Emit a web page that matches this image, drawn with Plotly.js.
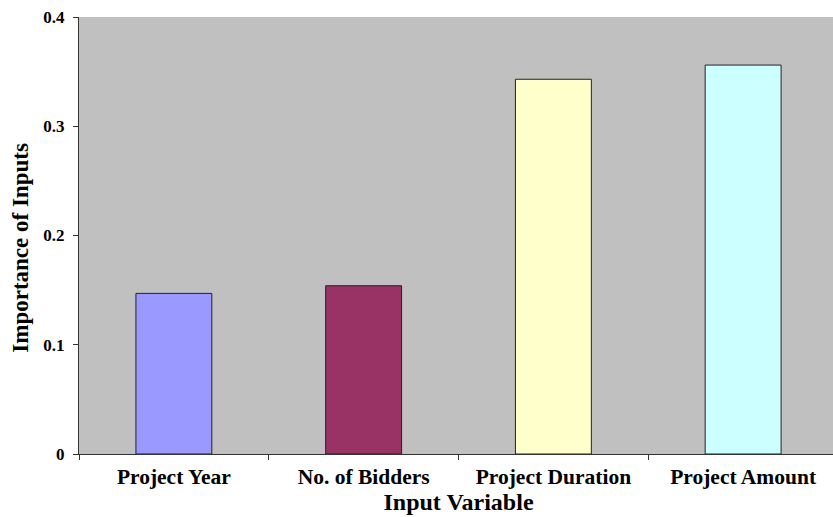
<!DOCTYPE html>
<html>
<head>
<meta charset="utf-8">
<script src="https://cdn.plot.ly/plotly-3.0.1.min.js"></script>
<style>html,body{margin:0;padding:0;background:#fff;overflow:hidden;}#chart{width:833px;height:517px;overflow:hidden;}</style>
</head>
<body>
<div id="chart"></div>
<script>
const categories = ["Project Year", "No. of Bidders", "Project Duration", "Project Amount"];
const importance = [0.147, 0.154, 0.343, 0.356];
const barColors = ["#9999FF", "#993366", "#FFFFCC", "#CCFFFF"];
const yTickValues = [0, 0.1, 0.2, 0.3, 0.4];
const yTickLabels = ["0", "0.1", "0.2", "0.3", "0.4"];
const yTitle = "Importance of Inputs";
const xTitle = "Input Variable";

const font = "'Liberation Serif', 'Times New Roman', serif";

Plotly.newPlot("chart", [{
  type: "bar",
  x: categories,
  y: importance,
  width: 0.4,
  marker: { color: barColors, line: { color: "#222222", width: 1 } },
  hoverinfo: "none"
}], {
  width: 838,
  height: 517,
  margin: { l: 79, r: 0, t: 17, b: 63 },
  paper_bgcolor: "#ffffff",
  plot_bgcolor: "#C0C0C0",
  showlegend: false,
  xaxis: {
    type: "category",
    showline: true,
    linecolor: "#333333",
    linewidth: 1,
    ticks: "outside",
    tickson: "boundaries",
    ticklen: 5,
    tickcolor: "#333333",
    ticklabelstandoff: 3,
    showgrid: false,
    tickfont: { family: font, size: 21.5, color: "#000", weight: "bold" },
    title: { text: "<b>" + xTitle + "</b>", font: { family: font, size: 24, color: "#000" }, standoff: 4 }
  },
  yaxis: {
    range: [0, 0.4],
    tickvals: yTickValues,
    ticktext: yTickLabels,
    showline: true,
    linecolor: "#333333",
    linewidth: 1,
    ticks: "outside",
    ticklen: 5,
    tickcolor: "#333333",
    ticklabelstandoff: 5,
    showgrid: false,
    zeroline: false,
    tickfont: { family: font, size: 17, color: "#000", weight: "bold" }
  },
  annotations: [{
    text: "<b>" + yTitle + "</b>",
    xref: "paper", yref: "paper",
    x: -0.077, y: 0.471,
    xanchor: "center", yanchor: "middle",
    textangle: -90,
    showarrow: false,
    font: { family: font, size: 23, color: "#000" }
  }]
}, { displayModeBar: false, staticPlot: true });
</script>
</body>
</html>
